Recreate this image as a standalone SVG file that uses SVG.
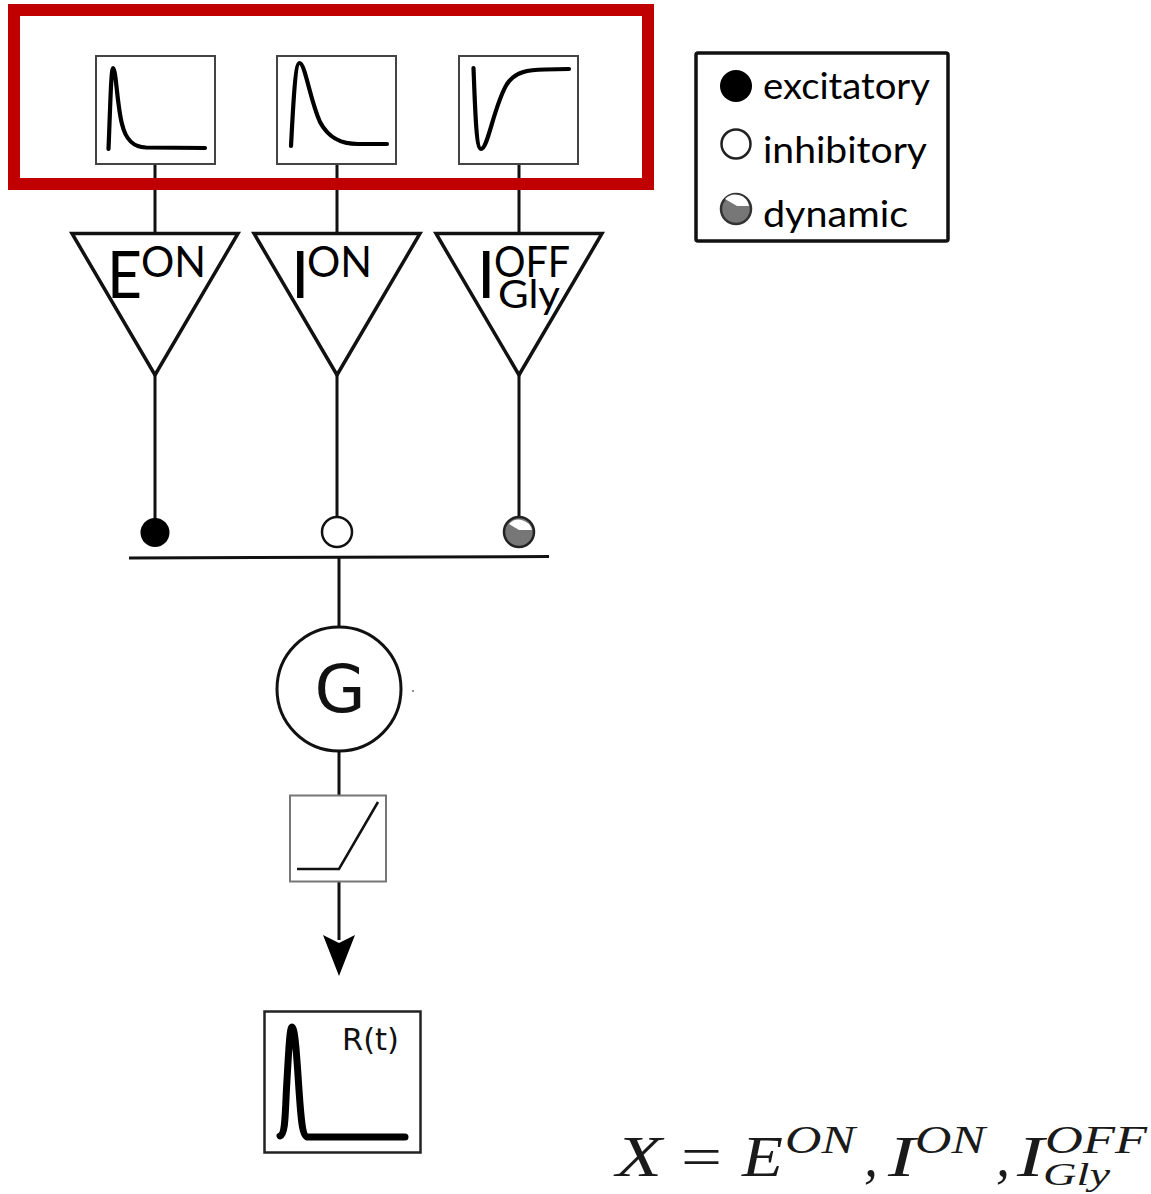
<svg xmlns="http://www.w3.org/2000/svg" width="1151" height="1194" viewBox="0 0 1151 1194">
<defs><style>
.c{fill:none;stroke:#111;stroke-width:3}
.box{fill:#fff;stroke:#444;stroke-width:2}
.tri{fill:#fff;stroke:#111;stroke-width:3.5;stroke-linejoin:miter}
.curve{fill:none;stroke:#000;stroke-width:4.2;stroke-linecap:round;stroke-linejoin:round}
.l{font-family:"Lato","Open Sans",sans-serif;fill:#000}
.m{font-family:"Liberation Serif",serif;font-style:italic;fill:#1a1a1a}
.dj{font-family:"DejaVu Sans",sans-serif;fill:#111}
</style></defs>
<rect width="1151" height="1194" fill="#fff"/>
<g id="connectors">
<path class="c" d="M155 164V233M337 164V233M519 164V233M155 375V520M337 375V517M519 375V517"/>
<path class="c" d="M129 558L549 556.500"/>
<path class="c" d="M339 557V627M339 751V795M339 882V940"/>
<path fill="#000" d="M323 935L339 943L355 935L339 976Z"/>
</g>
<g id="filter-e"><rect class="box" x="96" y="56" width="119" height="108"/><path class="curve" d="M108.500 149C110 115 111 68 113 68C116 68 117 105 122 124C126 141 134 147 146 147.500L205 148"/></g>
<g id="filter-i"><rect class="box" x="277" y="56" width="119" height="108"/><path class="curve" d="M291 146C293 110 295 63 299.500 63C305 63 310 100 320 122C329 139 342 144 358 144L387 144"/></g>
<g id="filter-off"><rect class="box" x="459" y="56" width="119" height="108"/><path class="curve" d="M473.500 68C475 105 476 149 481 149C488 149 494 105 507 84C515 72 528 69.500 545 69.500L569 69"/></g>
<g id="cell-e"><path class="tri" d="M72 233.500H238L155 375Z"/><text class="l" x="107" y="298" font-size="66" textLength="35" lengthAdjust="spacingAndGlyphs">E</text><text class="l" x="141" y="277" font-size="43" textLength="65" lengthAdjust="spacingAndGlyphs">ON</text></g>
<g id="cell-i"><path class="tri" d="M254 233.500H420L337 375Z"/><text class="l" x="291" y="298" font-size="66">I</text><text class="l" x="307" y="277" font-size="43" textLength="65" lengthAdjust="spacingAndGlyphs">ON</text></g>
<g id="cell-off"><path class="tri" d="M436 233.500H602L519 375Z"/><text class="l" x="477" y="298" font-size="66">I</text><text class="l" x="494" y="277" font-size="43" textLength="76" lengthAdjust="spacingAndGlyphs">OFF</text><text class="l" x="498" y="308" font-size="38" textLength="62" lengthAdjust="spacingAndGlyphs">Gly</text></g>
<g id="syn-e"><circle cx="155" cy="532.500" r="14.500" fill="#000"/></g>
<g id="syn-i"><circle cx="337" cy="532" r="15" fill="#fff" stroke="#111" stroke-width="2.500"/></g>
<g id="syn-off"><circle cx="519" cy="532" r="15" fill="#777" stroke="#222" stroke-width="2.500"/><path fill="#fff" d="M509 524A13.500 13.500 0 0 1 532 530L519 530Z"/></g>
<g id="gain"><circle cx="339" cy="689" r="62" fill="#fff" stroke="#111" stroke-width="3"/><text class="dj" x="340" y="712" font-size="66" text-anchor="middle">G</text></g>
<rect x="412" y="690.500" width="2" height="1" fill="#222"/>
<g id="nonlinearity"><rect x="290" y="795.500" width="96" height="86" fill="#fff" stroke="#777" stroke-width="2"/><path fill="none" stroke="#111" stroke-width="2.500" d="M297 869H339L378 802"/></g>
<g id="response"><rect x="264.500" y="1011.500" width="156" height="141" fill="#fff" stroke="#222" stroke-width="2.500"/><path fill="none" stroke="#000" stroke-width="7" stroke-linejoin="round" stroke-linecap="round" d="M280 1136C286 1134 285 1110 287 1080C289 1045 290 1027 292 1027C295 1027 297 1060 299 1090C301 1118 302 1137 308 1137L405 1137"/><text class="dj" x="342" y="1050" font-size="30" textLength="57" lengthAdjust="spacingAndGlyphs">R(t)</text></g>
<g id="legend"><rect x="696" y="53" width="252" height="188" rx="2" fill="#fff" stroke="#111" stroke-width="3.500"/>
<circle cx="736" cy="86" r="16" fill="#000"/><circle cx="736" cy="144" r="14.500" fill="#fff" stroke="#222" stroke-width="2.500"/>
<circle cx="736" cy="209" r="15" fill="#777" stroke="#333" stroke-width="2.500"/><path fill="#fff" d="M725 199A14 14 0 0 1 749 206L737 206Z"/>
<text class="l" x="763" y="99" font-size="36" textLength="167" lengthAdjust="spacingAndGlyphs">excitatory</text>
<text class="l" x="763" y="163" font-size="36" textLength="164" lengthAdjust="spacingAndGlyphs">inhibitory</text>
<text class="l" x="763" y="227" font-size="36" textLength="145" lengthAdjust="spacingAndGlyphs">dynamic</text></g>
<g id="region"><rect x="14" y="10" width="634" height="174" fill="none" stroke="#c00000" stroke-width="12"/></g>
<g id="formula">
<text class="m" x="616" y="1176" font-size="56" textLength="46" lengthAdjust="spacingAndGlyphs">X</text>
<text x="681" y="1176" font-size="56" textLength="41" lengthAdjust="spacingAndGlyphs" font-family="Liberation Serif,serif" fill="#1a1a1a">=</text>
<text class="m" x="742" y="1176" font-size="56" textLength="41" lengthAdjust="spacingAndGlyphs">E</text>
<text class="m" x="785" y="1153" font-size="40" textLength="70" lengthAdjust="spacingAndGlyphs">ON</text>
<text class="m" x="864" y="1176" font-size="56">,</text>
<text class="m" x="888" y="1176" font-size="56" textLength="27" lengthAdjust="spacingAndGlyphs">I</text>
<text class="m" x="915" y="1153" font-size="40" textLength="70" lengthAdjust="spacingAndGlyphs">ON</text>
<text class="m" x="996" y="1176" font-size="56">,</text>
<text class="m" x="1017" y="1176" font-size="56" textLength="27" lengthAdjust="spacingAndGlyphs">I</text>
<text class="m" x="1045" y="1153" font-size="40" textLength="102" lengthAdjust="spacingAndGlyphs">OFF</text>
<text class="m" x="1043" y="1185" font-size="32" textLength="67" lengthAdjust="spacingAndGlyphs">Gly</text>
</g>
</svg>
